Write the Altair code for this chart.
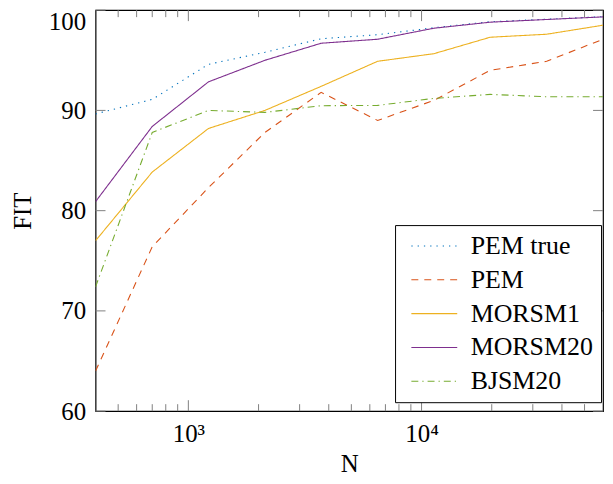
import altair as alt
import pandas as pd

N = [400, 700, 1220, 2130, 3710, 6480, 11300, 19700, 34400, 60000]
series_names = ["PEM true", "PEM", "MORSM1", "MORSM20", "BJSM20"]
pem_true = [89.65, 91.1, 94.6, 95.8, 97.15, 97.55, 98.25, 98.85, 99.1, 99.35]
pem = [64.0, 76.4, 82.3, 87.8, 91.8, 89.0, 91.0, 94.0, 94.9, 97.1]
morsm1 = [77.0, 83.85, 88.2, 90.0, 92.4, 94.9, 95.66, 97.3, 97.6, 98.5]
morsm20 = [80.9, 88.4, 92.85, 95.0, 96.7, 97.1, 98.2, 98.8, 99.07, 99.33]
bjsm20 = [72.4, 87.8, 90.0, 89.8, 90.47, 90.5, 91.2, 91.6, 91.36, 91.36]
colors = ["#0072BD", "#D95319", "#EDB120", "#7E2F8E", "#77AC30"]
dashes = [[1.3, 5], [7, 6], [1, 0], [1, 0], [7, 4, 1.3, 4]]

x_major = [1000, 10000]
x_minor = [500, 600, 700, 800, 900, 2000, 3000, 4000, 5000, 6000, 7000, 8000, 9000,
           20000, 30000, 40000, 50000]
y_major = [60, 70, 80, 90, 100]

rows = []
for name, vals in zip(series_names, [pem_true, pem, morsm1, morsm20, bjsm20]):
    for n, v in zip(N, vals):
        rows.append({"N": n, "FIT": v, "series": name})
df = pd.DataFrame(rows)

FONT = "Liberation Serif"
FS = 25
W, H = 510, 403
xscale = alt.Scale(type="log", domain=[400, 60000], nice=False)
yscale = alt.Scale(domain=[60, 100], nice=False, zero=False)

xaxis = alt.Axis(values=x_major, labelExpr="datum.value == 1000 ? '10³' : '10⁴'",
                 ticks=False, domain=False, grid=False, labelPadding=11,
                 labelFont=FONT, labelFontSize=FS, labelColor="black",
                 title="N", titleFont=FONT, titleFontSize=FS,
                 titleFontWeight="normal", titleColor="black", titlePadding=5)
yaxis = alt.Axis(values=y_major, ticks=False, domain=False, grid=False,
                 labelPadding=10, labelFont=FONT, labelFontSize=FS,
                 labelOffset={"condition": {"test": "datum.value == 100", "value": 11}, "value": 0},
                 labelColor="black", title="FIT", titleFont=FONT,
                 titleFontSize=FS, titleFontWeight="normal",
                 titleColor="black", titlePadding=13)

leg = alt.Legend(title=None, orient="none", legendX=301, legendY=216,
                 symbolType="M-1,0H9", symbolSize=85, symbolStrokeWidth=1.1,
                 labelFont=FONT, labelFontSize=26, labelColor="black",
                 fillColor="white", strokeColor="black", padding=8,
                 rowPadding=8, labelOffset=42, cornerRadius=0)

lines = alt.Chart(df).mark_line(strokeWidth=1.1, clip=True).encode(
    x=alt.X("N:Q", scale=xscale, axis=xaxis),
    y=alt.Y("FIT:Q", scale=yscale, axis=yaxis),
    color=alt.Color("series:N", scale=alt.Scale(domain=series_names, range=colors), legend=leg),
    strokeDash=alt.StrokeDash("series:N", scale=alt.Scale(domain=series_names, range=dashes), legend=leg),
)

tick_color = "#808080"
xmaj_df = pd.DataFrame({"v": x_major})
xmin_df = pd.DataFrame({"v": x_minor})
y_df = pd.DataFrame({"v": y_major})

def xticks(d, length):
    bottom = alt.Chart(d).mark_rule(color=tick_color, strokeWidth=1).encode(
        x=alt.X("v:Q", scale=xscale, axis=xaxis), y=alt.value(H), y2=alt.value(H - length))
    top = alt.Chart(d).mark_rule(color=tick_color, strokeWidth=1).encode(
        x=alt.X("v:Q", scale=xscale, axis=xaxis), y=alt.value(0), y2=alt.value(length))
    return [bottom, top]

yl = alt.Chart(y_df).mark_rule(color=tick_color, strokeWidth=1).encode(
    y=alt.Y("v:Q", scale=yscale, axis=yaxis), x=alt.value(0), x2=alt.value(10))
yr = alt.Chart(y_df).mark_rule(color=tick_color, strokeWidth=1).encode(
    y=alt.Y("v:Q", scale=yscale, axis=yaxis), x=alt.value(W), x2=alt.value(W - 10))

chart = alt.layer(lines, *xticks(xmaj_df, 11), *xticks(xmin_df, 7), yl, yr).properties(
    width=W, height=H,
    autosize=alt.AutoSizeParams(type="none"),
    padding={"left": 88, "top": 1, "right": 2, "bottom": 64},
).configure_view(stroke="black", strokeWidth=1.2)

chart.save("out.html", embed_options={"renderer": "svg", "actions": False})
